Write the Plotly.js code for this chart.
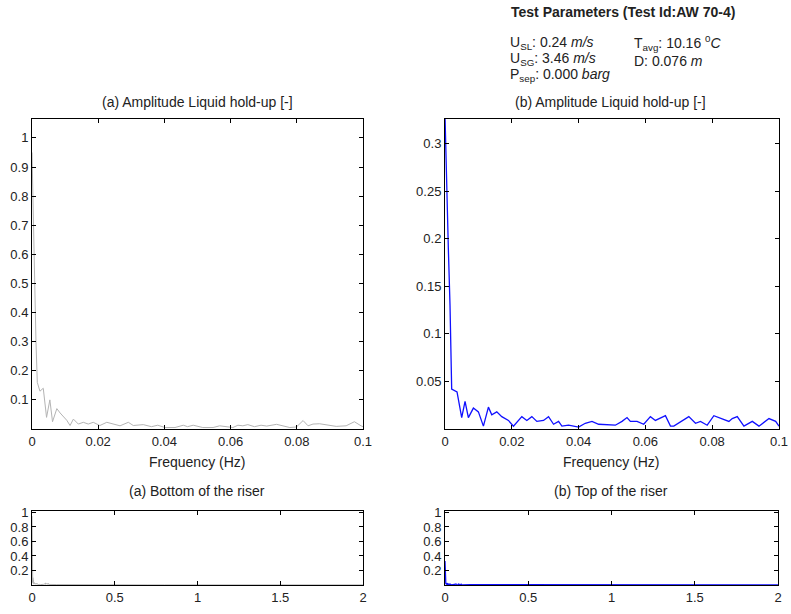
<!DOCTYPE html>
<html>
<head>
<meta charset="utf-8">
<script src="https://cdn.plot.ly/plotly-3.0.1.min.js"></script>
<style>html,body{margin:0;padding:0;background:#fff;}#chart{width:791px;height:614px;}</style>
</head>
<body>
<div id="chart"></div>
<script>
// (a) bottom of the riser: low-frequency amplitude spectrum
const freqA = [0, 0.0004, 0.0009, 0.0012, 0.0016, 0.0024, 0.0034, 0.0044, 0.0054, 0.0062, 0.0075, 0.0085, 0.0105, 0.0115, 0.0125, 0.014, 0.0155, 0.017, 0.0185, 0.0205, 0.0226, 0.0246, 0.0266, 0.0291, 0.0306, 0.0336, 0.0361, 0.038, 0.0402, 0.0432, 0.0457, 0.047, 0.0487, 0.0516, 0.0547, 0.0567, 0.0587, 0.0607, 0.0622, 0.0637, 0.0652, 0.0672, 0.0692, 0.0709, 0.0739, 0.0779, 0.0799, 0.0819, 0.0834, 0.0849, 0.0869, 0.0889, 0.0919, 0.0949, 0.0974, 0.0994, 0.1];
const ampA = [0.95, 0.69, 0.51, 0.3, 0.16, 0.13, 0.14, 0.04, 0.1, 0.025, 0.07, 0.055, 0.03, 0.012, 0.034, 0.017, 0.023, 0.017, 0.023, 0.012, 0.023, 0.017, 0.011, 0.023, 0.012, 0.015, 0.008, 0.013, 0.005, 0.005, 0.013, 0.008, 0.013, 0.005, 0.005, 0.011, 0.008, 0.005, 0.013, 0.011, 0.015, 0.008, 0.013, 0.01, 0.016, 0.005, 0.007, 0.029, 0.011, 0.017, 0.018, 0.014, 0.009, 0.011, 0.025, 0.011, 0.008];
// (b) top of the riser: low-frequency amplitude spectrum
const freqB = [0, 0.0005, 0.001, 0.0015, 0.002, 0.0036, 0.005, 0.006, 0.007, 0.0085, 0.010, 0.0115, 0.013, 0.014, 0.0155, 0.017, 0.019, 0.0205, 0.023, 0.0245, 0.026, 0.0275, 0.0295, 0.031, 0.0325, 0.034, 0.035, 0.037, 0.040, 0.042, 0.044, 0.046, 0.049, 0.051, 0.053, 0.0545, 0.0555, 0.0575, 0.0595, 0.0615, 0.063, 0.066, 0.0675, 0.0685, 0.073, 0.075, 0.0765, 0.0785, 0.0805, 0.0825, 0.085, 0.086, 0.0875, 0.0895, 0.092, 0.094, 0.097, 0.099, 0.1];
const ampB = [0.33, 0.25, 0.19, 0.13, 0.042, 0.039, 0.012, 0.029, 0.012, 0.022, 0.018, 0.003, 0.023, 0.015, 0.018, 0.013, 0.009, 0.003, 0.013, 0.009, 0.013, 0.008, 0.009, 0.013, 0.005, 0.008, 0.003, 0.004, 0.002, 0.006, 0.008, 0.005, 0.004, 0.004, 0.008, 0.012, 0.008, 0.008, 0.005, 0.013, 0.009, 0.014, 0.003, 0.003, 0.013, 0.006, 0.008, 0.004, 0.014, 0.011, 0.008, 0.011, 0.013, 0.003, 0.008, 0.003, 0.011, 0.008, 0.003];
// high-frequency tails (0.1 - 2 Hz) for the full-range panels
const freqTail = [0.15, 0.2, 0.3, 0.4, 0.5, 0.6, 0.7, 0.8, 0.9, 1.0, 1.1, 1.2, 1.3, 1.4, 1.5, 1.6, 1.7, 1.8, 1.9, 2.0];
const ampTailA = [0.006, 0.005, 0.004, 0.003, 0.003, 0.002, 0.002, 0.002, 0.002, 0.002, 0.002, 0.002, 0.002, 0.002, 0.002, 0.002, 0.002, 0.002, 0.002, 0.002];
const ampTailB = [0.004, 0.004, 0.003, 0.003, 0.003, 0.003, 0.003, 0.003, 0.003, 0.003, 0.003, 0.003, 0.003, 0.003, 0.003, 0.003, 0.003, 0.003, 0.003, 0.003];

const ticksTopX = [0, 0.02, 0.04, 0.06, 0.08, 0.1];
const ticksTopAY = [0.1, 0.2, 0.3, 0.4, 0.5, 0.6, 0.7, 0.8, 0.9, 1];
const ticksTopBY = [0.05, 0.1, 0.15, 0.2, 0.25, 0.3];
const ticksBotX = [0, 0.5, 1, 1.5, 2];
const ticksBotY = [0.2, 0.4, 0.6, 0.8, 1];

const W = 791, H = 614;
const px = v => v / W, py = v => 1 - v / H;

const FONT = 'Liberation Sans, Arial, sans-serif';
const grayC = '#b4b4b4', blueC = '#1010ff';
const traces = [
  {x: freqA, y: ampA, xaxis: 'x', yaxis: 'y', mode: 'lines', line: {color: grayC, width: 1}},
  {x: freqB, y: ampB, xaxis: 'x2', yaxis: 'y2', mode: 'lines', line: {color: blueC, width: 1.3}},
  {x: freqA.concat(freqTail), y: ampA.concat(ampTailA), xaxis: 'x3', yaxis: 'y3', mode: 'lines', line: {color: grayC, width: 1}},
  {x: freqB.concat(freqTail), y: ampB.concat(ampTailB), xaxis: 'x4', yaxis: 'y4', mode: 'lines', line: {color: blueC, width: 1.3}}
];

const tickFont = {family: FONT, size: 13, color: '#222'};
function ax(domain, range, vals, extra) {
  return Object.assign({
    domain: domain, range: range, tickvals: vals, ticktext: vals.map(String),
    showline: true, linecolor: '#000', linewidth: 1, mirror: 'allticks',
    ticks: 'inside', ticklen: 4, tickwidth: 1, tickcolor: '#000',
    showgrid: false, zeroline: false, tickfont: tickFont, fixedrange: true
  }, extra || {});
}

const layout = {
  width: W, height: H, showlegend: false,
  margin: {l: 0, r: 0, t: 0, b: 0},
  paper_bgcolor: '#fff', plot_bgcolor: '#fff',
  font: {family: FONT, size: 13, color: '#222'},
  xaxis:  ax([px(32), px(363)], [0, 0.1], ticksTopX, {anchor: 'y'}),
  yaxis:  ax([py(429), py(119)], [0, 1.065], ticksTopAY, {anchor: 'x'}),
  xaxis2: ax([px(445), px(779)], [0, 0.1], ticksTopX, {anchor: 'y2'}),
  yaxis2: ax([py(429), py(119)], [0, 0.326], ticksTopBY, {anchor: 'x2'}),
  xaxis3: ax([px(32), px(363)], [0, 2], ticksBotX, {anchor: 'y3'}),
  yaxis3: ax([py(585), py(511)], [0, 1.02], ticksBotY, {anchor: 'x3'}),
  xaxis4: ax([px(445), px(778)], [0, 2], ticksBotX, {anchor: 'y4'}),
  yaxis4: ax([py(585), py(511)], [0, 1.02], ticksBotY, {anchor: 'x4'}),
  annotations: []
};

function note(text, x, y, size, opts) {
  layout.annotations.push(Object.assign({
    text: text, xref: 'paper', yref: 'paper', x: px(x), y: py(y),
    showarrow: false, xanchor: 'center', yanchor: 'middle',
    font: {family: FONT, size: size, color: '#222'}
  }, opts || {}));
}

note('(a) Amplitude Liquid hold-up [-]', 197, 102, 14);
note('(b) Amplitude Liquid hold-up [-]', 610, 102, 14);
note('Frequency (Hz)', 197, 462, 14);
note('Frequency (Hz)', 611, 462, 14);
note('(a) Bottom of the riser', 197, 491, 14);
note('(b) Top of the riser', 611, 491, 14);
note('<b>Test Parameters (Test Id:AW 70-4)</b>', 509, 12, 14, {xanchor: 'left'});
note('U<sub>SL</sub>: 0.24 <i>m/s</i>', 508, 43, 14, {xanchor: 'left'});
note('U<sub>SG</sub>: 3.46 <i>m/s</i>', 508, 59, 14, {xanchor: 'left'});
note('P<sub>sep</sub>: 0.000 <i>barg</i>', 508, 75, 14, {xanchor: 'left'});
note('T<sub>avg</sub>: 10.16 <sup>0</sup><i>C</i>', 632, 43, 14, {xanchor: 'left'});
note('D: 0.076 <i>m</i>', 632, 61, 14, {xanchor: 'left'});

Plotly.newPlot('chart', traces, layout, {displayModeBar: false, staticPlot: true});
</script>
</body>
</html>
